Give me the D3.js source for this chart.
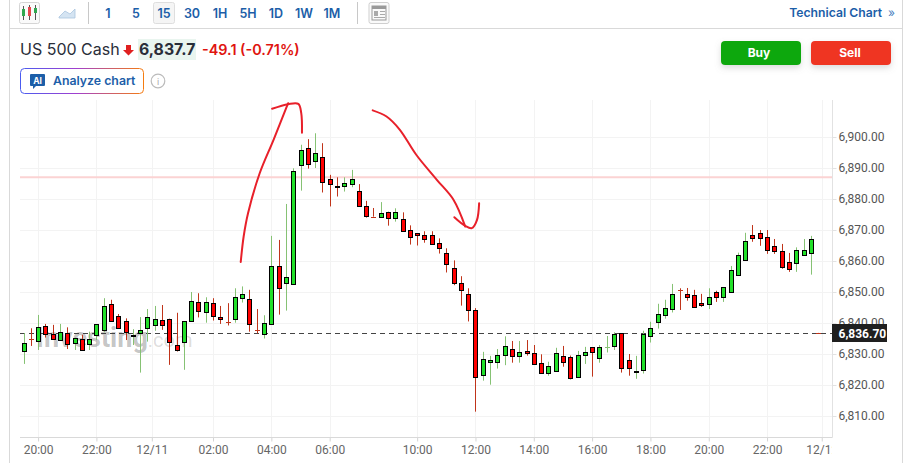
<!DOCTYPE html>
<html><head><meta charset="utf-8">
<script src="https://cdn.jsdelivr.net/npm/d3@7"></script>
<style>html,body{margin:0;padding:0;background:#fff;overflow:hidden}svg{display:block}</style>
</head><body><div id="chart"></div>
<script>
const opens=[6831.2,6834.8,6834.1,6838.9,6836.5,6834.4,6836.9,6833.8,6835.0,6833.5,
6836.1,6837.7,6846.1,6842.4,6840.5,6835.7,6837.0,6838.3,6839.6,6841.1,
6841.4,6833.0,6833.8,6840.9,6846.9,6843.8,6846.6,6841.9,6840.5,6841.5,
6848.3,6847.9,6838.0,6836.4,6839.9,6858.5,6853.2,6852.5,6891.2,6896.3,
6892.2,6893.4,6886.4,6884.3,6884.1,6885.1,6882.7,6877.9,6874.4,6874.4,
6875.9,6874.1,6873.7,6869.9,6868.9,6868.3,6868.5,6865.9,6862.7,6857.6,
6853.0,6849.2,6844.3,6823.2,6827.3,6827.2,6829.5,6831.5,6829.2,6830.9,
6830.2,6827.0,6823.8,6824.4,6829.3,6829.0,6822.5,6829.6,6832.2,6828.5,
6832.1,6832.5,6836.7,6828.0,6824.2,6825.1,6835.7,6840.1,6842.4,6844.4,
6850.6,6849.3,6849.0,6846.4,6846.1,6849.9,6848.3,6849.9,6855.4,6860.6,
6868.3,6869.0,6867.7,6864.8,6863.2,6859.6,6859.3,6861.9,6862.5,6836.8];
const closes=[6833.7,6834.7,6838.6,6836.4,6834.8,6837.0,6833.5,6835.3,6831.5,6835.0,
6839.6,6845.4,6840.6,6838.6,6837.0,6836.0,6837.9,6841.8,6841.4,6839.6,
6834.1,6831.5,6840.5,6847.2,6844.1,6846.9,6842.5,6841.1,6840.4,6848.5,
6849.5,6839.9,6837.9,6839.9,6858.5,6851.5,6855.0,6888.9,6895.9,6891.2,
6894.8,6885.4,6884.8,6884.0,6885.1,6886.6,6877.8,6874.8,6874.3,6875.6,
6874.1,6875.9,6869.9,6867.7,6868.3,6867.0,6865.7,6864.2,6859.0,6852.8,
6850.6,6844.1,6822.8,6828.5,6828.0,6829.6,6832.5,6829.2,6830.6,6830.1,
6826.7,6823.8,6826.1,6830.2,6827.3,6822.2,6829.6,6830.6,6830.6,6832.2,
6832.2,6836.4,6825.4,6825.4,6824.5,6836.6,6838.3,6842.8,6844.7,6849.3,
6850.5,6848.2,6845.1,6845.6,6848.3,6848.3,6851.5,6857.0,6861.9,6866.6,
6867.2,6867.3,6863.4,6863.2,6858.0,6857.3,6863.5,6863.5,6867.0,6836.7];
const highs=[6836.7,6838.3,6842.6,6839.7,6839.4,6839.7,6838.6,6835.3,6836.2,6837.2,
6839.6,6848.0,6847.5,6842.9,6841.5,6838.0,6841.9,6844.5,6845.5,6845.8,
6841.4,6843.3,6840.5,6850.0,6849.6,6848.3,6848.0,6845.5,6846.4,6851.2,
6851.8,6850.7,6844.5,6842.5,6868.1,6866.8,6878.4,6889.9,6897.5,6899.3,
6901.2,6898.0,6887.8,6887.0,6887.0,6889.4,6884.8,6879.4,6877.1,6879.0,
6875.9,6877.0,6875.7,6871.5,6868.9,6869.6,6869.6,6867.3,6864.1,6860.2,
6855.1,6851.2,6844.8,6830.7,6829.4,6831.6,6835.7,6834.2,6834.2,6834.5,
6832.9,6829.9,6827.5,6832.0,6832.6,6829.5,6831.0,6832.3,6832.2,6832.9,
6835.8,6837.0,6836.7,6830.0,6829.4,6837.5,6840.4,6846.2,6847.5,6852.6,
6851.2,6851.3,6850.7,6849.4,6851.2,6850.4,6851.5,6858.4,6862.7,6869.1,
6871.6,6870.0,6870.0,6867.1,6865.5,6862.6,6864.4,6867.1,6868.1,6836.8];
const lows=[6826.8,6832.6,6831.3,6835.3,6834.8,6834.2,6831.6,6831.3,6831.1,6831.3,
6834.5,6837.0,6840.6,6838.6,6834.5,6832.9,6824.0,6834.0,6837.5,6837.8,
6826.5,6830.8,6824.9,6840.9,6841.8,6840.1,6840.8,6839.7,6839.2,6840.1,
6846.6,6837.2,6836.7,6835.0,6839.9,6842.7,6844.0,6852.5,6882.7,6889.8,
6890.0,6882.1,6877.6,6880.8,6882.4,6883.8,6877.8,6874.0,6874.3,6874.3,
6871.4,6872.7,6869.5,6865.3,6865.0,6865.9,6865.6,6862.4,6856.3,6852.2,
6845.6,6840.5,6811.4,6821.4,6820.1,6825.3,6826.4,6827.2,6827.2,6829.5,
6826.7,6823.8,6823.0,6824.4,6825.9,6821.8,6822.5,6826.8,6822.7,6827.2,
6830.5,6831.3,6824.0,6823.0,6822.0,6823.7,6833.7,6838.2,6841.4,6843.4,
6844.2,6847.2,6845.1,6845.2,6844.5,6846.8,6846.8,6849.9,6855.4,6860.6,
6866.2,6864.9,6862.3,6862.3,6857.5,6856.5,6856.5,6861.9,6855.6,6836.7];

const timeTickIndex=[2,10,17.6,26,34,42,54,62,70,78,86,94,102,109.5];
const timeTickLabels=["20:00","22:00","12/11","02:00","04:00","06:00","10:00","12:00","14:00","16:00","18:00","20:00","22:00","12/12"];
const priceTicks=[6810,6820,6830,6840,6850,6860,6870,6880,6890,6900];
const lastPrice=6836.7, pinkLevel=6887.0;
const intervals=["1","5","15","30","1H","5H","1D","1W","1M"];
const strokeUpIndex=[29.8,30.2,30.8,32.4,34.3,36.3];
const strokeUpPrice=[6859.7,6867.9,6875.4,6888.3,6899.1,6910.9];
const hookUpIndex=[34.1,36.3,37.7,38.1,38.2];
const hookUpPrice=[6909.1,6910.6,6910.7,6907.7,6901.4];
const strokeDownIndex=[47.9,49.8,51.6,53.9,56.7,59.0,60.6];
const strokeDownPrice=[6908.6,6906.6,6902.4,6894.2,6886.2,6879.7,6871.1];
const hookDownIndex=[59.1,60.6,61.5,62.2,62.5];
const hookDownPrice=[6874.1,6871.3,6870.6,6873.2,6878.6];

const W=906,H=463,L=20,R=832,T=100,B=437;
const UI="Inter, 'Noto Sans', sans-serif", AX="Roboto, sans-serif";
const svg=d3.select("#chart").append("svg").attr("width",W).attr("height",H);
const defs=svg.append("defs");
defs.append("clipPath").attr("id","plotClip").append("rect").attr("x",0).attr("y",0).attr("width",R).attr("height",H);
const grad=defs.append("linearGradient").attr("id","aiGrad").attr("x1","0").attr("x2","1").attr("y1","0").attr("y2","0");
grad.append("stop").attr("offset","0").attr("stop-color","#4a5cf0");
grad.append("stop").attr("offset","0.45").attr("stop-color","#a03fd0");
grad.append("stop").attr("offset","1").attr("stop-color","#f57c10");
const shG=defs.append("filter").attr("id","btnShadow").attr("x","-20%").attr("y","-40%").attr("width","140%").attr("height","200%");
shG.append("feDropShadow").attr("dx",0).attr("dy",3).attr("stdDeviation",3).attr("flood-color","#888").attr("flood-opacity",0.3);

const x=d3.scaleLinear().domain([0,109]).range([23.5,818.1]);
const y=d3.scaleLinear().domain([6900,6810]).range([137,416]);

// frame
const fr="#d9d9d9";
svg.append("line").attr("x1",9.5).attr("x2",9.5).attr("y1",0).attr("y2",H).attr("stroke",fr);
svg.append("line").attr("x1",902.5).attr("x2",902.5).attr("y1",0).attr("y2",H).attr("stroke",fr);
svg.append("line").attr("x1",9.5).attr("x2",902.5).attr("y1",28.5).attr("y2",28.5).attr("stroke",fr);

// toolbar
const tb=svg.append("g");
tb.append("rect").attr("x",19.5).attr("y",2.5).attr("width",20).attr("height",21).attr("rx",2).attr("fill","#fafafa").attr("stroke","#d5d5d5");
[[23.5,"#2fa84f",6,20,9,16],[29.5,"#e5484d",5,20,7,16],[35.5,"#2fa84f",5,20,8,13]].forEach(c=>{
  tb.append("line").attr("x1",c[0]).attr("x2",c[0]).attr("y1",c[2]).attr("y2",c[3]).attr("stroke","#555");
  tb.append("rect").attr("x",c[0]-1.5).attr("y",c[4]).attr("width",3).attr("height",c[5]-c[4]).attr("fill",c[1]);
});
tb.append("path").attr("d","M59,17 L65,11 L70,14 L75,9 L75,18 L59,18 Z").attr("fill","#d5e4f2").attr("stroke","#a9c4de").attr("stroke-width",0.8);
tb.append("line").attr("x1",88.5).attr("x2",88.5).attr("y1",2).attr("y2",24).attr("stroke","#c8c8c8");
tb.append("line").attr("x1",357.5).attr("x2",357.5).attr("y1",2).attr("y2",24).attr("stroke","#c8c8c8");
tb.append("rect").attr("x",153.5).attr("y",2.5).attr("width",21).attr("height",21).attr("rx",2).attr("fill","#f5f5f5").attr("stroke","#dedede");
const ivX=d3.scalePoint().domain(intervals).range([108,332]);
tb.selectAll("text.iv").data(intervals).join("text").attr("class","iv")
  .attr("x",d=>ivX(d)).attr("y",18).attr("text-anchor","middle")
  .attr("font-family",UI).attr("font-size",12.5).attr("font-weight",600).attr("fill","#1c5ea8").text(d=>d);
tb.append("rect").attr("x",369).attr("y",2.5).attr("width",20).attr("height",21).attr("rx",2).attr("fill","#fafafa").attr("stroke","#cfcfcf");
tb.append("rect").attr("x",372).attr("y",6).attr("width",14).attr("height",14).attr("fill","none").attr("stroke","#999");
tb.append("rect").attr("x",372).attr("y",6).attr("width",14).attr("height",3).attr("fill","#999");
tb.append("rect").attr("x",374).attr("y",11).attr("width",4).attr("height",5).attr("fill","#aaa");
tb.append("path").attr("d","M380,11.5H385M380,14.5H385M374,17.5H385").attr("stroke","#aaa");
tb.append("text").attr("x",882).attr("y",17).attr("text-anchor","end").attr("font-family",UI).attr("font-size",12.2).attr("font-weight",600).attr("fill","#1c5ea8").text("Technical Chart");
tb.append("text").attr("x",888).attr("y",17).attr("font-family",UI).attr("font-size",12).attr("fill","#4a7fc0").text("»");

// header
const hd=svg.append("g");
hd.append("text").attr("x",20).attr("y",55).attr("font-family",UI).attr("font-size",16).attr("fill","#2a2e39").text("US 500 Cash");
hd.append("path").attr("d","M126,45H131V50H134L128.5,55.5L123,50H126Z").attr("fill","#e02020");
hd.append("rect").attr("x",138).attr("y",39).attr("width",58).attr("height",21).attr("fill","#e9f5ef");
hd.append("text").attr("x",139).attr("y",55).attr("font-family",UI).attr("font-size",15.8).attr("font-weight",700).attr("fill","#2a2e39").text("6,837.7");
hd.append("text").attr("x",202).attr("y",55).attr("font-family",UI).attr("font-size",14.4).attr("font-weight",600).attr("fill","#e0140f").text("-49.1 (-0.71%)");
hd.append("rect").attr("x",20.5).attr("y",68.5).attr("width",123).attr("height",25).attr("rx",4).attr("fill","#fff").attr("stroke","url(#aiGrad)").attr("stroke-width",1);
hd.append("path").attr("d","M31,74H44a1,1 0 0 1 1,1V85a1,1 0 0 1 -1,1H36L33,89V86H31a1,1 0 0 1 -1,-1V75a1,1 0 0 1 1,-1Z").attr("fill","#1c5ea8");
hd.append("text").attr("x",37.5).attr("y",84).attr("text-anchor","middle").attr("font-family",UI).attr("font-size",8.5).attr("font-weight",700).attr("fill","#fff").text("AI");
hd.append("text").attr("x",53).attr("y",85).attr("font-family",UI).attr("font-size",12.3).attr("font-weight",600).attr("fill","#1c5ea8").text("Analyze chart");
hd.append("circle").attr("cx",158).attr("cy",81).attr("r",6.8).attr("fill","none").attr("stroke","#bbb").attr("stroke-width",1.2);
hd.append("text").attr("x",158).attr("y",85).attr("text-anchor","middle").attr("font-family",UI).attr("font-size",9).attr("fill","#aaa").text("i");
[["Buy",721,"#10a80a"],["Sell",811,"#ef3524"]].forEach(b=>{
  hd.append("rect").attr("x",b[1]).attr("y",41).attr("width",80).attr("height",24).attr("rx",4).attr("fill",b[2]).attr("filter","url(#btnShadow)");
  hd.append("text").attr("x",b[1]+(b[0]==="Buy"?38:39)).attr("y",57).attr("text-anchor","middle").attr("font-family",UI).attr("font-size",12).attr("font-weight",700).attr("fill","#fff").text(b[0]);
});

// axes
const ax=svg.append("g").attr("clip-path","url(#plotClip)");
const gx=ax.append("g").attr("transform",`translate(0,${B+0.5})`)
  .call(d3.axisBottom(x).tickValues(timeTickIndex).tickFormat((d,i)=>timeTickLabels[i]).tickSize(4).tickPadding(4));
gx.select(".domain").remove();
gx.selectAll("line").attr("stroke","#d4d4d4");
gx.selectAll("text").attr("font-family",AX).attr("font-size",12).attr("fill","#666");
svg.append("g").selectAll("line").data(timeTickIndex).join("line")
  .attr("x1",d=>Math.round(x(d))+0.5).attr("x2",d=>Math.round(x(d))+0.5).attr("y1",T).attr("y2",B).attr("stroke","#f3f3f3");
svg.append("g").selectAll("line").data(priceTicks).join("line")
  .attr("x1",L).attr("x2",R).attr("y1",d=>Math.round(y(d))+0.5).attr("y2",d=>Math.round(y(d))+0.5).attr("stroke","#f3f3f3");
svg.append("line").attr("x1",L).attr("x2",R+0.5).attr("y1",B+0.5).attr("y2",B+0.5).attr("stroke","#d9d9d9");
svg.append("line").attr("x1",R+0.5).attr("x2",R+0.5).attr("y1",T).attr("y2",B+0.5).attr("stroke","#e2e2e2");
const gy=svg.append("g").attr("transform",`translate(${R+0.5},0)`)
  .call(d3.axisRight(y).tickValues(priceTicks).tickFormat(d3.format(",.2f")).tickSize(4).tickPadding(2));
gy.select(".domain").remove();
gy.selectAll("line").attr("stroke","#e2e2e2");
gy.selectAll("text").attr("font-family",AX).attr("font-size",12).attr("fill","#555");

// watermark
const wm=svg.append("text").attr("x",36).attr("y",347).attr("font-family",AX);
wm.append("tspan").attr("font-size",27).attr("font-weight",700).attr("fill","#000").attr("fill-opacity",0.24).text("Investing");
wm.append("tspan").attr("font-size",20).attr("fill","#000").attr("fill-opacity",0.15).text(".com");

// level lines
svg.append("line").attr("x1",L).attr("x2",R).attr("y1",y(pinkLevel)).attr("y2",y(pinkLevel)).attr("stroke","#fbd3d3").attr("stroke-width",2);
svg.append("line").attr("x1",L).attr("x2",R).attr("y1",Math.round(y(lastPrice))+0.5).attr("y2",Math.round(y(lastPrice))+0.5).attr("stroke","#444").attr("stroke-dasharray","5,4");

// candles
const rows=d3.range(opens.length).map(i=>({i,o:opens[i],c:closes[i],h:highs[i],l:lows[i]}));
const GREEN="#22e02a",RED="#ff0000",WG="#86c274",WR="#c0341a";
const cg=svg.append("g");
const wx=d=>Math.round(x(d.i))+0.5;
const isCross=d=>Math.abs(d.o-d.c)<0.15;
cg.selectAll("line.wick").data(rows).join("line").attr("class","wick")
  .attr("x1",wx).attr("x2",wx).attr("y1",d=>y(d.h)).attr("y2",d=>y(d.l))
  .attr("stroke",d=>d.c>d.o?WG:WR);
cg.selectAll("rect.body").data(rows.filter(d=>!isCross(d))).join("rect").attr("class","body")
  .attr("x",d=>wx(d)-2).attr("width",4)
  .attr("y",d=>Math.round(y(Math.max(d.o,d.c)))+0.5)
  .attr("height",d=>Math.max(1,Math.round(y(Math.min(d.o,d.c))-y(Math.max(d.o,d.c)))))
  .attr("fill",d=>d.c>d.o?GREEN:RED).attr("stroke","#000").attr("stroke-width",1);
cg.selectAll("line.cross").data(rows.filter(isCross)).join("line").attr("class","cross")
  .attr("x1",d=>wx(d)-2.5).attr("x2",d=>wx(d)+2.5).attr("y1",d=>Math.round(y(d.c))+0.5).attr("y2",d=>Math.round(y(d.c))+0.5)
  .attr("stroke",d=>d.c>d.o?WG:WR);

// hand-drawn arrows
const hand=d3.line().x(p=>x(p[0])).y(p=>y(p[1])).curve(d3.curveCatmullRom.alpha(0.5));
[[strokeUpIndex,strokeUpPrice],[hookUpIndex,hookUpPrice],[strokeDownIndex,strokeDownPrice],[hookDownIndex,hookDownPrice]].forEach(s=>{
  svg.append("path").attr("d",hand(d3.zip(s[0],s[1]))).attr("fill","none").attr("stroke","#e8202a").attr("stroke-width",2).attr("stroke-linecap","round");
});

// last price tag
svg.append("rect").attr("x",R).attr("y",Math.round(y(lastPrice))-9).attr("width",55).attr("height",18).attr("fill","#1f1f1f");
svg.append("text").attr("x",R+6.5).attr("y",Math.round(y(lastPrice))+4.5).attr("font-family",AX).attr("font-size",12).attr("font-weight",700).attr("fill","#fff").text(d3.format(",.2f")(lastPrice));
</script></body></html>
